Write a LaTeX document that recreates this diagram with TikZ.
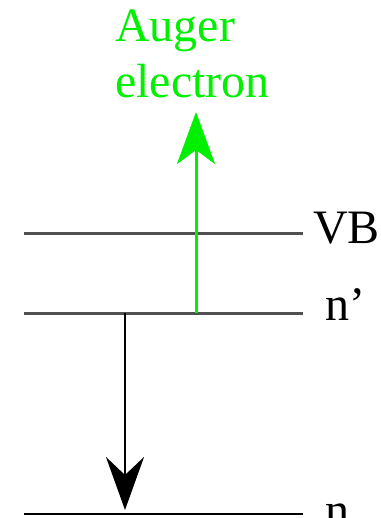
\documentclass[tikz,border=0pt]{standalone}
\usepackage{fontspec}
\setmainfont{Liberation Serif}
\usetikzlibrary{arrows.meta}
\definecolor{levelgray}{HTML}{505050}
\definecolor{augergreen}{HTML}{00F000}
\begin{document}
\begin{tikzpicture}[x=1pt,y=-1pt,
  level/.style={line width=3pt,draw=levelgray},
  lbl/.style={font=\fontsize{48}{56}\selectfont,inner sep=0pt,anchor=base west},
  decay/.style={line width=2.5pt,-{Stealth[length=53pt,width=38pt,inset=18pt]}},
  auger/.style={line width=3pt,draw=augergreen,-{Stealth[length=52pt,width=38pt,inset=14pt]},fill=augergreen}]
\fill[white] (0,0) rectangle (380,518);
\useasboundingbox (0,0) rectangle (380,518);
\clip (0,0) rectangle (380,518);
% levels
\coordinate (vbL) at (24,233); \coordinate (vbR) at (303,233);
\coordinate (npL) at (24,313); \coordinate (npR) at (303,313);
\coordinate (nL) at (24,514);  \coordinate (nR) at (303,514);
\draw[level] (vbL) -- (vbR);
\draw[level] (npL) -- (npR);
\draw[line width=2.5pt,draw=black] (nL) -- (nR);
% labels
\node[lbl] (vb) at (313,243) {VB};
\node[lbl] (np) at (325,320) {n'};
\node[lbl] (n) at (325,526) {n};
\node[lbl,text=augergreen] (auger) at (115,42) {Auger};
\node[lbl,text=augergreen] (electron) at (115,98) {electron};
% arrows
\coordinate (gstart) at (196,313);
\coordinate (gend) at (196,112);
\draw[auger] (gstart) -- (gend);
\coordinate (bstart) at (125,313);
\coordinate (bend) at (125,510);
\draw[decay] (bstart) -- (bend);
\end{tikzpicture}
\end{document}
